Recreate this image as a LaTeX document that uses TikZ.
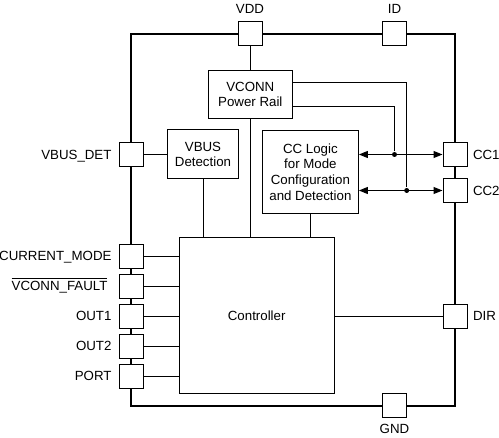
\documentclass[tikz,border=0pt]{standalone}
\usepackage{fontspec}
\setmainfont{Liberation Sans}
\usetikzlibrary{arrows.meta}

\begin{document}
\begin{tikzpicture}[x=1pt, y=-1pt, line width=1pt,
		every node/.style={font=\fontsize{13.3}{15.7}\selectfont},
		pad/.style={draw, fill=white, minimum size=24pt, inner sep=0pt},
		blk/.style={draw, align=center, inner sep=0pt},
		lbl/.style={inner sep=0pt},
		dot/.style={circle, fill, minimum size=5pt, inner sep=0pt},
		arr/.style={{Triangle[length=9pt,width=7pt]}-{Triangle[length=9pt,width=7pt]}}]
			\useasboundingbox (0,0) rectangle (499,438);
			\draw[line width=2pt] (131,34) rectangle (455,406);
			
			\node[pad] (vdd)     at (250, 34)     {};
			\node[pad] (id)      at (394.5, 34)   {};
			\node[pad] (gnd)     at (394.5, 406)  {};
			\node[pad] (vbusdet) at (131, 154.5)  {};
			\node[pad] (cc1)     at (455, 154.5)  {};
			\node[pad] (cc2)     at (455, 190.5)  {};
			\node[pad] (dir)     at (455, 316.3)  {};
			\foreach \name/\y in {cm/256.3, fault/286.3, out1/316.3, out2/346.3, port/376.3}
				\node[pad] (\name) at (131, \y) {};
			
			\node[lbl, anchor=base] (tvdd) at (250, 14)    {VDD};
			\node[lbl, anchor=base] (tid)  at (394.5, 14)  {ID};
			\node[lbl, anchor=base] (tgnd) at (394.5, 434) {GND};
			\node[lbl, anchor=base west] (tcc1) at (472.5, 159.1) {CC1};
			\node[lbl, anchor=base west] (tcc2) at (472.5, 195.1) {CC2};
			\node[lbl, anchor=base west] (tdir) at (472.5, 320.9) {DIR};
			\node[lbl, anchor=base east] (tvbusdet) at (112, 159.1) {VBUS\_DET};
			\node[lbl, anchor=base east] (tcm)    at (112, 260.9) {CURRENT\_MODE};
			\node[lbl, anchor=base east] (tfault) at (108, 290.9) {$\overline{\mbox{\rule{0pt}{11.3pt}VCONN\_FAULT}}$};
			\node[lbl, anchor=base east] (tout1)  at (112, 320.9) {OUT1};
			\node[lbl, anchor=base east] (tout2)  at (112, 350.9) {OUT2};
			\node[lbl, anchor=base east] (tport)  at (112, 380.9) {PORT};
			
			\node[blk, minimum width=84pt, minimum height=47.6pt] (vconn) at (250.3, 94.5) {VCONN\\Power Rail};
			\node[blk, minimum width=70.6pt, minimum height=49pt] (vbus) at (203, 154.5) {VBUS\\Detection};
			\node[blk, minimum width=96pt, minimum height=82.6pt] (cclogic) at (310.4, 172) {CC Logic\\for Mode\\Configuration\\and Detection};
			\node[blk, minimum width=155.3pt, minimum height=156pt] (ctrl) at (256.7, 316) {Controller};
			
			\node[dot] (j1) at (394.5, 154.5) {};
			\node[dot] (j2) at (406.7, 190.5) {};
			
			\draw (vdd) -- (vdd |- vconn.north);
			\draw (vconn.south) -- (vconn.south |- ctrl.north);
			\draw (vbusdet) -- (vbus);
			\draw (vbus.south) -- (vbus.south |- ctrl.north);
			\draw (cclogic.south) -- (cclogic.south |- ctrl.north);
			\draw ([yshift=12pt]vconn.east) -| (j2);
			\draw ([yshift=-12pt]vconn.east) -| (j1);
			\draw[arr] (cclogic.east |- cc1) -- (cc1);
			\draw[arr] (cclogic.east |- cc2) -- (cc2);
			\draw (dir) -- (dir -| ctrl.east);
			\foreach \name in {cm, fault, out1, out2, port}
				\draw (\name) -- (\name -| ctrl.west);
			%\draw (id) -- (id |- cclogic.north);
		\end{tikzpicture}
\end{document}
